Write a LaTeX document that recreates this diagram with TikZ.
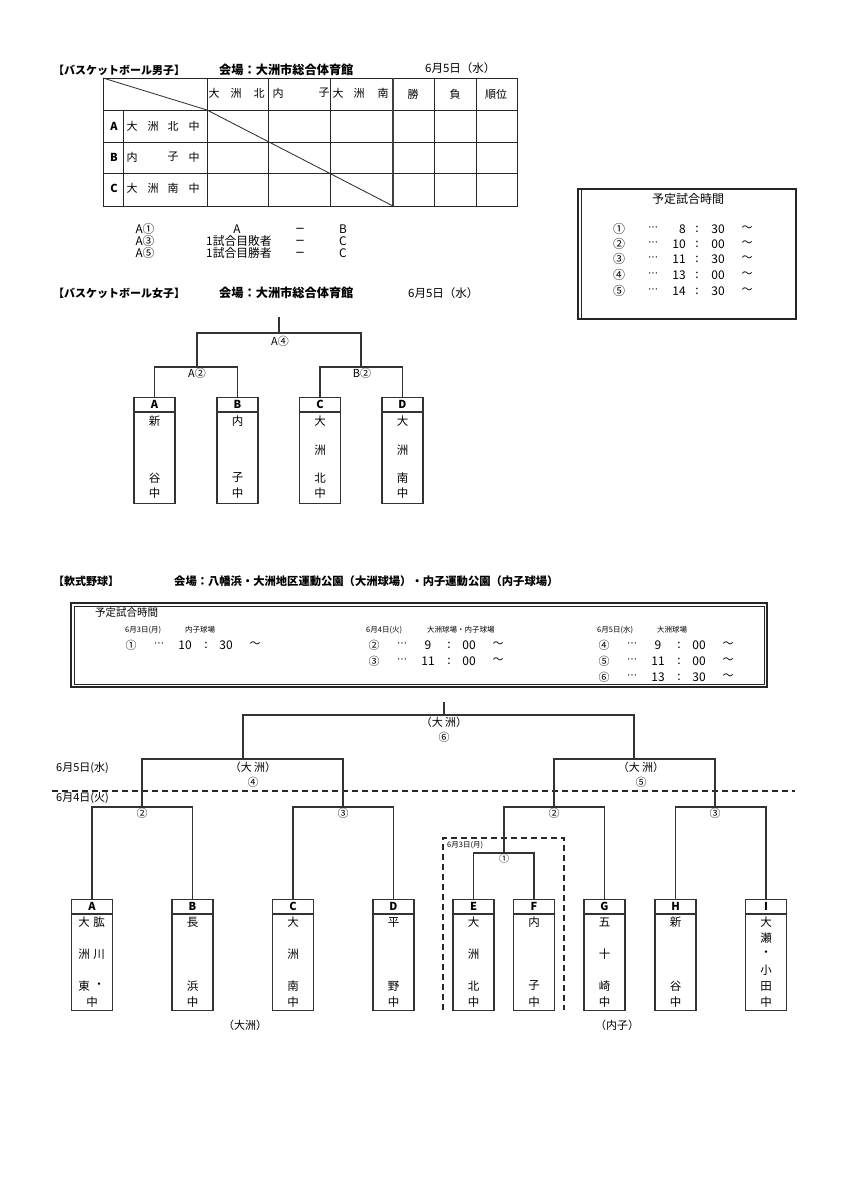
\documentclass[tikz,border=0pt]{standalone}
\usepackage{fontspec}
\setmainfont{Noto Sans CJK JP}
\newfontfamily\dvs{DejaVu Sans}
\newcounter{txc}
\newcommand\tx[4][]{\stepcounter{txc}\node[txt,#1] (tx\arabic{txc}) at (#2,#3) {#4};}
\newcommand\dts{{\dvs\fontsize{10}{10}\selectfont ⋯}}
\newcommand\mns{{\dvs −}}
\tikzset{
  txt/.style={inner sep=0pt, font=\fontsize{11}{11}\selectfont},
  big/.style={font=\fontsize{11.5}{11.5}\selectfont},
  lst/.style={font=\fontsize{11.8}{11.8}\selectfont},
  rbx/.style={font=\fontsize{12}{12}\selectfont},
  small/.style={font=\fontsize{7.5}{7.5}\selectfont},
  hd/.style={font=\fontsize{11}{11}\selectfont\bfseries},
  lett/.style={inner sep=0pt, font=\fontsize{11}{11}\selectfont\bfseries},
  ln/.style={draw=black!80, line width=1.1pt},
  grid/.style={draw=black!85, line width=0.8pt},
  tbox/.style={draw=black!80, line width=1.2pt, minimum width=41pt, anchor=north, inner sep=0pt},
  hdr/.style={draw=black!80, line width=1.4pt},
}
\begin{document}
\begin{tikzpicture}[x=1pt,y=-1pt]
\useasboundingbox (0,0) rectangle (849,1200);
\fill[white] (0,0) rectangle (849,1200);

% ================= Boys basketball =================
\tx[hd,anchor=west]{53}{70}{【バスケットボール男子】}
\tx[hd,anchor=west,font=\fontsize{12.2}{12.2}\selectfont\bfseries]{219}{70}{会場：大洲市総合体育館}
\tx[big,anchor=west]{425}{68}{6月5日（水）}

\draw[grid] (103,78) rectangle (517,206);
\draw[grid] (103,110) -- (517,110);
\draw[grid] (103,142) -- (517,142);
\draw[grid] (103,173) -- (517,173);
\draw[grid] (123,110) -- (123,206);
\draw[grid] (207,78) -- (207,206);
\draw[grid] (268,78) -- (268,206);
\draw[grid] (330,78) -- (330,206);
\draw[draw=black!75, line width=2pt] (393,78) -- (393,206);
\draw[grid] (434,78) -- (434,206);
\draw[grid] (476,78) -- (476,206);
\draw[grid] (103,78) -- (207,110) -- (393,206);

\tx{214}{93}{大}\tx{236}{93}{洲}\tx{259}{93}{北}
\tx{278}{93}{内}\tx{324}{93}{子}
\tx{338}{93}{大}\tx{359}{93}{洲}\tx{383}{93}{南}
\tx{413}{94}{勝}\tx{455}{94}{負}\tx{496}{94}{順位}

\tx[lett]{114}{126}{A}
\tx{132}{126}{大}\tx{153}{126}{洲}\tx{173}{126}{北}\tx{194}{126}{中}
\tx[lett]{114}{157}{B}
\tx{132}{157}{内}\tx{173}{157}{子}\tx{194}{157}{中}
\tx[lett]{114}{188}{C}
\tx{132}{188}{大}\tx{153}{188}{洲}\tx{173}{188}{南}\tx{194}{188}{中}

\tx[lst]{145}{229}{A①}
\tx[lst]{237}{229}{A}
\tx[lst]{300}{230.5}{\mns}
\tx[lst]{343}{229}{B}
\tx[lst]{145}{241}{A③}
\tx[lst]{239}{241}{1試合目敗者}
\tx[lst]{300}{242.5}{\mns}
\tx[lst]{343}{241}{C}
\tx[lst]{145}{253}{A⑤}
\tx[lst]{239}{253}{1試合目勝者}
\tx[lst]{300}{254.5}{\mns}
\tx[lst]{343}{253}{C}

% ================= Right schedule box =================
\draw[draw=black!85, line width=1.3pt] (578,189) rectangle (796,319);
\draw[draw=black!85, line width=0.6pt] (581,189) -- (581,319);
\tx[rbx]{688}{199}{予定試合時間}
\foreach \yy/\cn/\hh/\mm [count=\k] in {229/①/8/30, 244/②/10/00, 259/③/11/30, 275/④/13/00, 291/⑤/14/30}{
  \node[txt,rbx] (rc\k) at (619,\yy) {\cn};
  \node[txt] (rd\k) at (653,\yy) {\dts};
  \node[txt,rbx,anchor=east] (rh\k) at (686,\yy) {\hh};
  \node[txt,rbx] (rk\k) at (697,\yy) {:};
  \node[txt,rbx] (rm\k) at (718,\yy) {\mm};
  \node[txt] (rt\k) at (747,\yy) {～};
}

% ================= Girls basketball =================
\tx[hd,anchor=west]{53}{293}{【バスケットボール女子】}
\tx[hd,anchor=west,font=\fontsize{12.2}{12.2}\selectfont\bfseries]{219}{293}{会場：大洲市総合体育館}
\tx[big,anchor=west]{408}{293}{6月5日（水）}

\node[tbox, minimum height=106pt] (gA) at (154.5,397) {};
\node[tbox, minimum height=106pt] (gB) at (237.5,397) {};
\node[tbox, minimum height=106pt] (gC) at (320,397) {};
\node[tbox, minimum height=106pt] (gD) at (402.5,397) {};
\foreach \n/\l in {gA/A,gB/B,gC/C,gD/D}{
  \draw[hdr] ([yshift=-15pt]\n.north west) -- ([yshift=-15pt]\n.north east);
  \node[lett] (\n l) at ([yshift=-7.5pt]\n.north) {\l};
}
\tx[big]{154.5}{421}{新}\tx[big]{154.5}{478}{谷}\tx[big]{154.5}{493}{中}
\tx[big]{237.5}{421}{内}\tx[big]{237.5}{478}{子}\tx[big]{237.5}{493}{中}
\tx[big]{320}{421}{大}\tx[big]{320}{450}{洲}\tx[big]{320}{478}{北}\tx[big]{320}{493}{中}
\tx[big]{402.5}{421}{大}\tx[big]{402.5}{450}{洲}\tx[big]{402.5}{478}{南}\tx[big]{402.5}{493}{中}

\coordinate (gj1) at (197,367);
\coordinate (gj2) at (361,367);
\coordinate (gj3) at (279,333);
\coordinate (gtop) at (279,317);
\draw[ln] (gA.north) |- (gj1) -| (gB.north);
\draw[ln] (gC.north) |- (gj2) -| (gD.north);
\draw[ln] (gj1) |- (gj3) -| (gj2);
\draw[ln] (gj3) -- (gtop);
\tx{280}{341}{A④}
\tx{197}{373}{A②}
\tx{362}{373}{B②}

% ================= Baseball =================
\tx[hd,anchor=west]{53}{581}{【軟式野球】}
\tx[hd,anchor=west,font=\fontsize{11.3}{11.3}\selectfont\bfseries]{174}{581}{会場：八幡浜・大洲地区運動公園（大洲球場）・内子運動公園（内子球場）}

\draw[draw=black!85, line width=1.3pt] (71,603) rectangle (767,687);
\draw[draw=black!85, line width=0.6pt] (74,606) rectangle (764,684);
\tx[anchor=west,font=\fontsize{10.5}{10.5}\selectfont]{95}{613}{予定試合時間}
\tx[small,anchor=west]{125}{630}{6月3日(月)}
\tx[small,anchor=west]{185}{630}{内子球場}
\tx[small,anchor=west]{366}{630}{6月4日(火)}
\tx[small,anchor=west]{427}{630}{大洲球場・内子球場}
\tx[small,anchor=west]{597}{630}{6月5日(水)}
\tx[small,anchor=west]{657}{630}{大洲球場}

\foreach \xa/\yy/\cn/\hh/\mm [count=\k] in {131/645/①/10/30, 374/645/②/9/00, 374/661/③/11/00, 604/645/④/9/00, 604/661/⑤/11/00, 604/677/⑥/13/30}{
  \node[txt] (sc\k) at (\xa,\yy) {\cn};
  \node[txt] (sd\k) at (\xa+28,\yy) {\dts};
  \node[txt,rbx] (sh\k) at (\xa+54,\yy) {\hh};
  \node[txt,rbx] (sk\k) at (\xa+75,\yy) {:};
  \node[txt,rbx] (sm\k) at (\xa+95,\yy) {\mm};
  \node[txt] (st\k) at (\xa+124,\yy) {～};
}

% date labels and dashed line
\tx[anchor=west]{56}{768}{6月5日(水)}
\tx[anchor=west]{56}{798}{6月4日(火)}
\coordinate (dl) at (52,791);
\coordinate (dr) at (795,791);
\draw[draw=black!85, line width=1.2pt, dash pattern=on 6pt off 4pt] (dl) -- (dr);

% dashed box for 6/3
\coordinate (db1) at (443,1010);
\coordinate (db2) at (443,838);
\coordinate (db3) at (564,838);
\coordinate (db4) at (564,1010);
\draw[draw=black!85, line width=1.2pt, dash pattern=on 6pt off 4pt] (db1) -- (db2) -- (db3) -- (db4);
\tx[small,anchor=west]{447}{845}{6月3日(月)}

% team boxes
\foreach \n/\xx/\l in {bA/92/A, bB/192.5/B, bC/293/C, bD/393.5/D, bE/473.5/E, bF/534/F, bG/604.5/G, bH/675.5/H, bI/766/I}{
  \node[tbox, minimum height=111pt] (\n) at (\xx,899) {};
  \draw[hdr] ([yshift=-15pt]\n.north west) -- ([yshift=-15pt]\n.north east);
  \node[lett] (\n l) at ([yshift=-7.5pt]\n.north) {\l};
}
% A
\tx[big]{84}{922}{大}\tx[big]{99}{922}{肱}
\tx[big]{84}{954}{洲}\tx[big]{99}{954}{川}
\tx[big]{84}{986}{東}\tx[big]{99}{986}{・}
\tx[big]{92}{1002}{中}
% B
\tx[big]{192.5}{922}{長}\tx[big]{192.5}{986}{浜}\tx[big]{192.5}{1002}{中}
% C
\tx[big]{293}{922}{大}\tx[big]{293}{954}{洲}\tx[big]{293}{986}{南}\tx[big]{293}{1002}{中}
% D
\tx[big]{393.5}{922}{平}\tx[big]{393.5}{986}{野}\tx[big]{393.5}{1002}{中}
% E
\tx[big]{473.5}{922}{大}\tx[big]{473.5}{954}{洲}\tx[big]{473.5}{986}{北}\tx[big]{473.5}{1002}{中}
% F
\tx[big]{534}{922}{内}\tx[big]{534}{986}{子}\tx[big]{534}{1002}{中}
% G
\tx[big]{604.5}{922}{五}\tx[big]{604.5}{954}{十}\tx[big]{604.5}{986}{崎}\tx[big]{604.5}{1002}{中}
% H
\tx[big]{675.5}{922}{新}\tx[big]{675.5}{986}{谷}\tx[big]{675.5}{1002}{中}
% I
\tx[big]{766}{922}{大}\tx[big]{766}{938}{瀬}\tx[big]{766}{954}{・}\tx[big]{766}{970}{小}\tx[big]{766}{986}{田}\tx[big]{766}{1002}{中}

\tx{245}{1025}{（大洲）}
\tx{617}{1025}{（内子）}

% bracket joints
\coordinate (j1) at (504,853);
\coordinate (j2L) at (142,807);
\coordinate (j3L) at (343,807);
\coordinate (j2R) at (554,807);
\coordinate (j3R) at (715,807);
\coordinate (j4) at (243,759);
\coordinate (j5) at (634,759);
\coordinate (j6) at (444,715);
\coordinate (jtop) at (444,702);

\draw[ln] (bE.north) |- (j1) -| (bF.north);
\draw[ln] (bA.north) |- (j2L) -| (bB.north);
\draw[ln] (bC.north) |- (j3L) -| (bD.north);
\draw[ln] (j1) |- (j2R) -| (bG.north);
\draw[ln] (bH.north) |- (j3R) -| (bI.north);
\draw[ln] (j2L) |- (j4) -| (j3L);
\draw[ln] (j2R) |- (j5) -| (j3R);
\draw[ln] (j4) |- (j6) -| (j5);
\draw[ln] (j6) -- (jtop);

\tx[font=\fontsize{10}{10}\selectfont]{504}{859}{①}
\tx{142}{813}{②}
\tx{343}{813}{③}
\tx{554}{813}{②}
\tx{715}{813}{③}
\tx{253}{767}{（大 洲）}
\tx{253}{782}{④}
\tx{641}{767}{（大 洲）}
\tx{641}{782}{⑤}
\tx{444}{722}{（大 洲）}
\tx{444}{737}{⑥}
\end{tikzpicture}
\end{document}
